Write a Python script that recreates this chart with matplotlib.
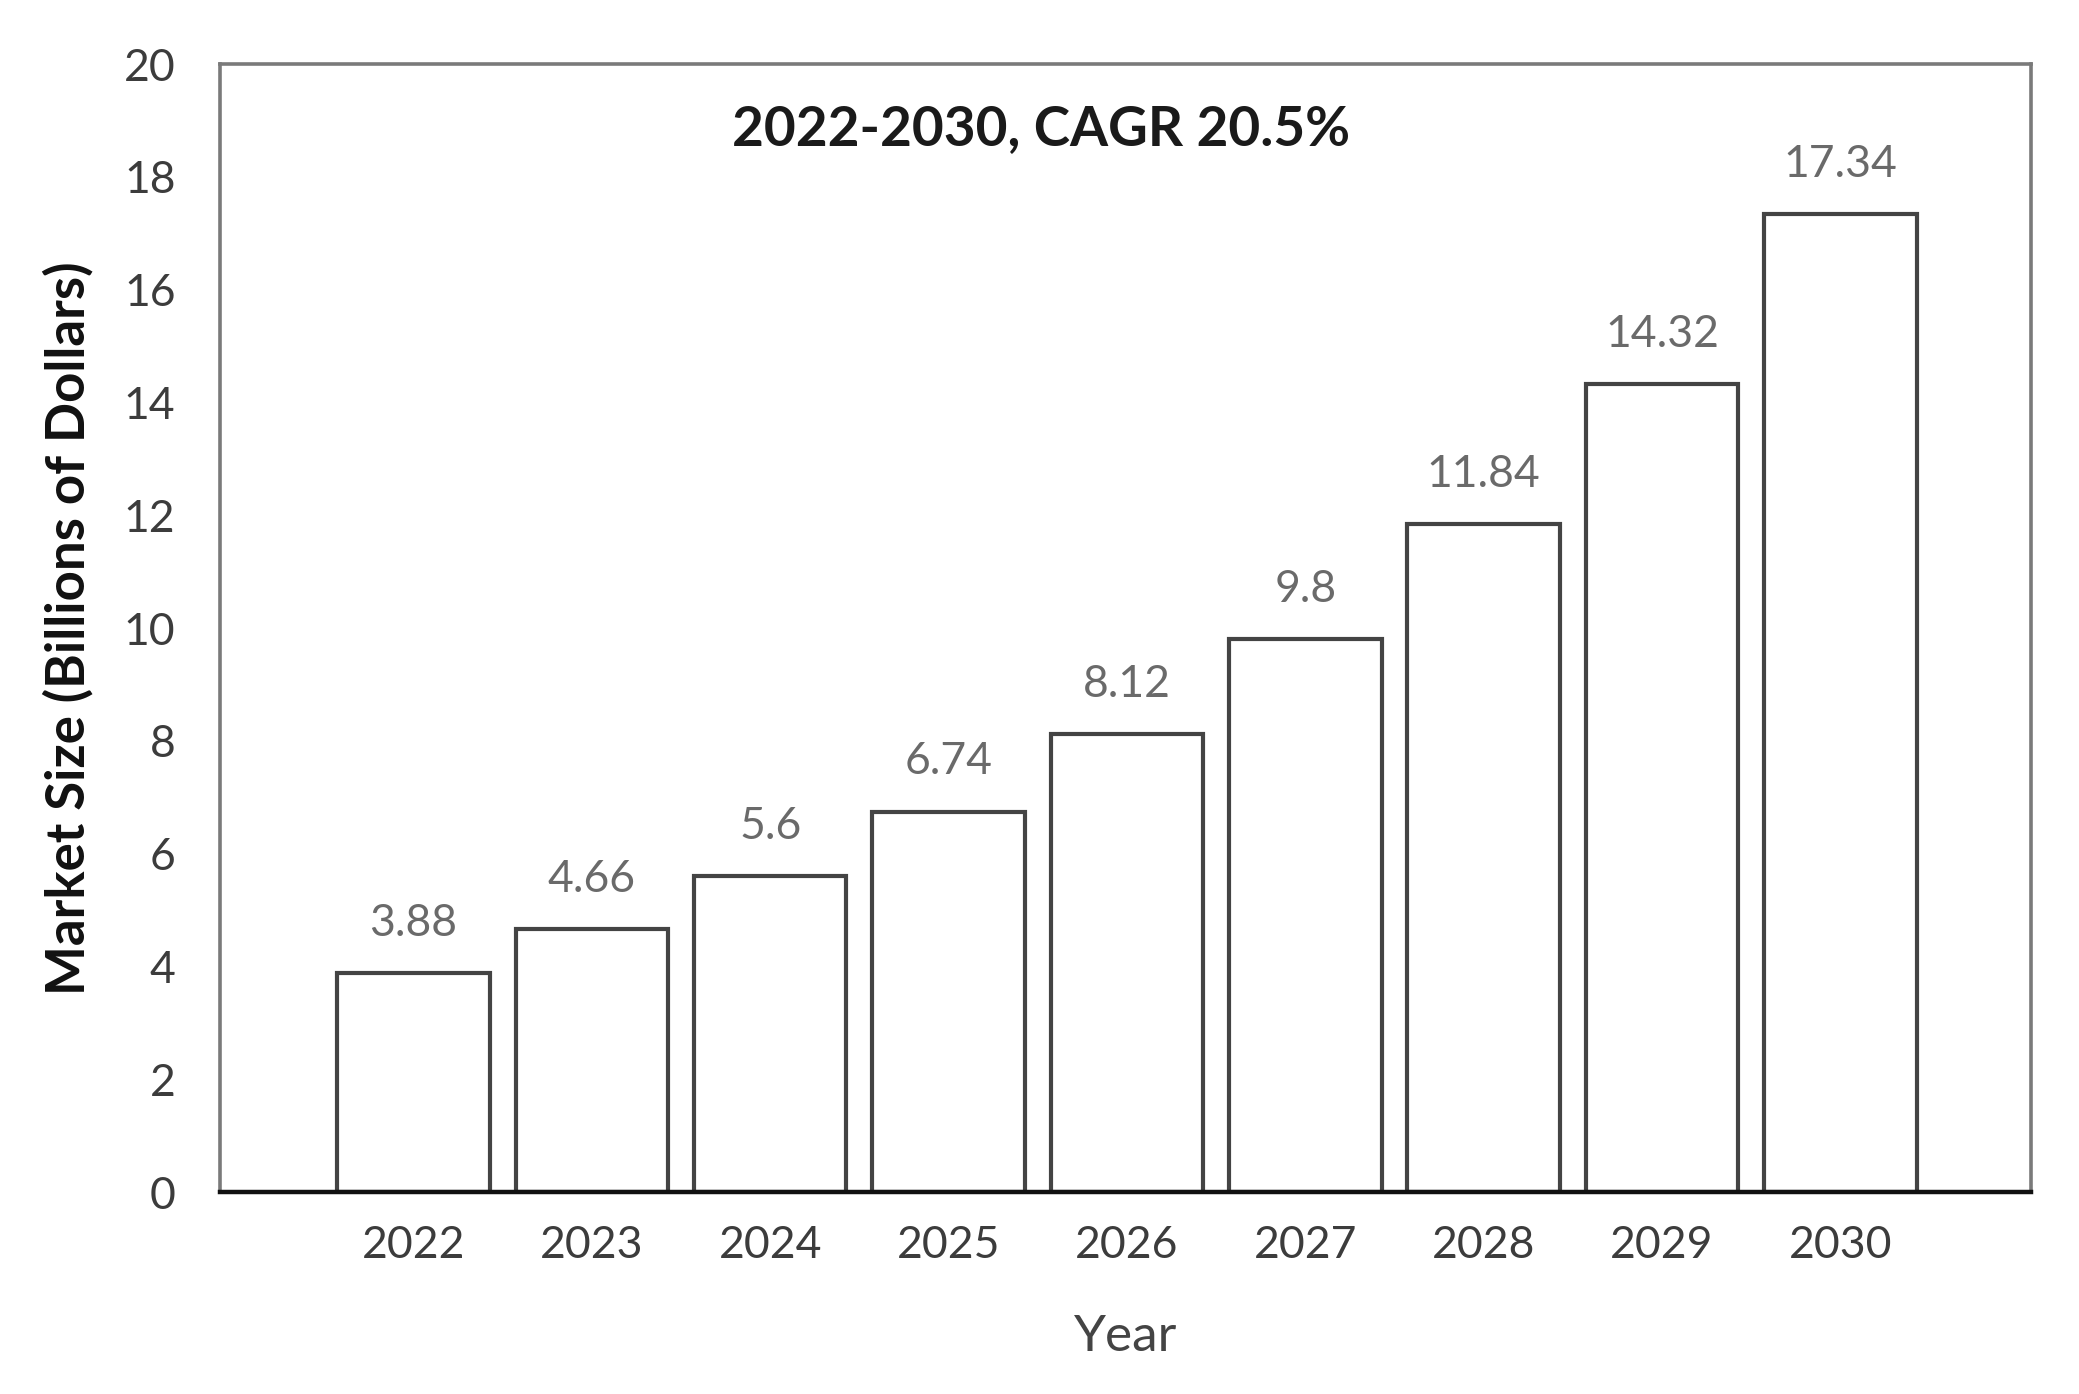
import matplotlib
matplotlib.use("Agg")
import matplotlib.pyplot as plt

years = ["2022", "2023", "2024", "2025", "2026", "2027", "2028", "2029", "2030"]
values = [3.88, 4.66, 5.6, 6.74, 8.12, 9.8, 11.84, 14.32, 17.34]
value_labels = ["3.88", "4.66", "5.6", "6.74", "8.12", "9.8", "11.84", "14.32", "17.34"]
y_ticks = [0, 2, 4, 6, 8, 10, 12, 14, 16, 18, 20]
title_text = "2022-2030, CAGR 20.5%"

plt.rcParams['font.family'] = ['Lato', 'DejaVu Sans']

fig = plt.figure(figsize=(20.79, 13.94), dpi=100)
ax = fig.add_axes([0.1058, 0.1449, 0.977 - 0.1058, 0.954 - 0.1449])

x = list(range(len(years)))
ax.bar(x, values, width=0.855, color="white", edgecolor="#444444", linewidth=3.0, zorder=2)

for xi, v, lab in zip(x, values, value_labels):
    ax.annotate(lab, (xi, v), xytext=(0, 36), textcoords="offset points",
                ha="center", va="center", fontsize=32, color="#6a6a6a")

ax.set_xlim(-1.085, 9.07)
ax.set_ylim(0, 20)
ax.set_yticks(y_ticks)
ax.set_yticklabels([str(t) for t in y_ticks])
ax.set_xticks(x)
ax.set_xticklabels(years)
ax.tick_params(axis="both", length=0, labelsize=32, colors="#3c3c3c")
ax.tick_params(axis="y", pad=32)
ax.tick_params(axis="x", pad=24)

for s in ["left", "top", "right"]:
    ax.spines[s].set_color("#7a7a7a")
    ax.spines[s].set_linewidth(2.6)
ax.spines["bottom"].set_color("#111111")
ax.spines["bottom"].set_linewidth(3.2)

ax.text(3.52, 18.85, title_text, ha="center", va="center", fontsize=39.5,
        fontweight="bold", color="#1a1a1a")

ax.set_ylabel("Market Size (Billions of Dollars)", fontsize=38, color="#111111",
              fontweight="bold", labelpad=22)
ax.set_xlabel("Year", fontsize=37, color="#444444", labelpad=34)

fig.savefig("out.png", dpi=100, facecolor="white")
